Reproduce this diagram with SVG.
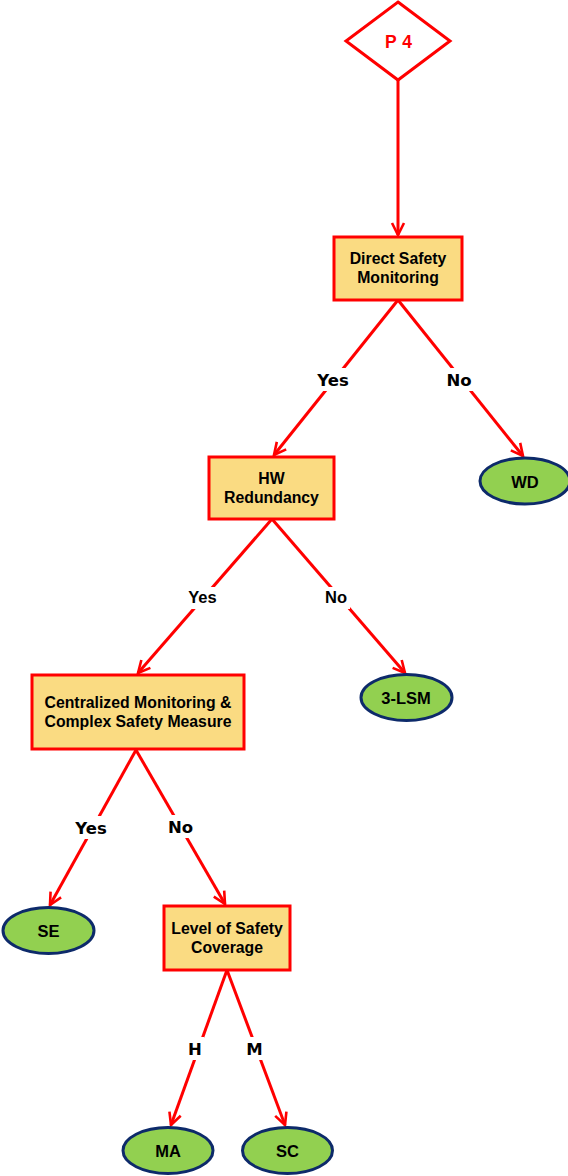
<svg xmlns="http://www.w3.org/2000/svg" width="568" height="1176" viewBox="0 0 568 1176">
  <style>
    .box { fill: #FADB82; stroke: #FF0000; stroke-width: 3; }
    .leaf { fill: #92D050; stroke: #0D2A6A; stroke-width: 3; }
    .btxt { font-family: "Liberation Sans", Arial, sans-serif; font-weight: bold; font-size: 15.8px; fill: #000; text-anchor: middle; }
    .ltxt { font-family: "Liberation Sans", Arial, sans-serif; font-weight: bold; font-size: 16.5px; fill: #000; text-anchor: middle; }
    .lbl { font-family: "DejaVu Sans", Verdana, sans-serif; font-weight: bold; font-size: 16.5px; fill: #000; text-anchor: middle; }
    .lbl2 { font-family: "Liberation Sans", Arial, sans-serif; font-weight: bold; font-size: 16.5px; fill: #000; text-anchor: middle; }
    .edge { stroke: #FF0000; stroke-width: 3; fill: none; }
    .gap { fill: #FFFFFF; }
  </style>
  <defs>
    <marker id="arrow" markerUnits="userSpaceOnUse" markerWidth="16" markerHeight="16" refX="13" refY="7" orient="auto" viewBox="0 0 16 14">
      <path d="M1,1 L13,7 L1,13" fill="none" stroke="#FF0000" stroke-width="2.6"/>
    </marker>
  </defs>
  <rect width="568" height="1176" fill="#FFFFFF"/>

  <!-- connectors -->
  <g id="connectors">
    <line class="edge" x1="398" y1="80" x2="398" y2="235" marker-end="url(#arrow)"/>
    <line class="edge" x1="398" y1="300" x2="274" y2="455" marker-end="url(#arrow)"/>
    <line class="edge" x1="398" y1="300" x2="523" y2="456" marker-end="url(#arrow)"/>
    <line class="edge" x1="272" y1="519" x2="138" y2="673" marker-end="url(#arrow)"/>
    <line class="edge" x1="272" y1="519" x2="405" y2="673" marker-end="url(#arrow)"/>
    <line class="edge" x1="136" y1="750" x2="50" y2="905" marker-end="url(#arrow)"/>
    <line class="edge" x1="136" y1="750" x2="225" y2="904" marker-end="url(#arrow)"/>
    <line class="edge" x1="227" y1="970" x2="171" y2="1125" marker-end="url(#arrow)"/>
    <line class="edge" x1="227" y1="970" x2="285" y2="1125" marker-end="url(#arrow)"/>

    <!-- edge labels on white backgrounds -->
    <rect class="gap" x="312" y="368" width="42" height="23"/>
    <text class="lbl" x="333" y="386">Yes</text>
    <rect class="gap" x="443" y="368" width="32" height="23"/>
    <text class="lbl" x="459" y="386">No</text>

    <rect class="gap" x="184" y="587" width="37" height="22"/>
    <text class="lbl2" x="202.5" y="603">Yes</text>
    <rect class="gap" x="322" y="587" width="28" height="22"/>
    <text class="lbl2" x="336" y="603">No</text>

    <rect class="gap" x="71" y="816" width="40" height="23"/>
    <text class="lbl" x="91" y="834">Yes</text>
    <rect class="gap" x="166" y="815" width="28" height="23"/>
    <text class="lbl" x="180.5" y="833" font-size="15px">No</text>

    <rect class="gap" x="186" y="1037" width="18" height="23"/>
    <text class="lbl" x="195" y="1055">H</text>
    <rect class="gap" x="244" y="1037" width="21" height="23"/>
    <text class="lbl" x="254.5" y="1055">M</text>
  </g>

  <!-- nodes -->
  <g id="p4">
    <polygon points="398,2 450,41 398,80 346,41" fill="#FFFFFF" stroke="#FF0000" stroke-width="3"/>
    <text x="398.5" y="48" font-family="Liberation Sans, Arial, sans-serif" font-weight="bold" font-size="17.5px" word-spacing="1" fill="#FF0000" text-anchor="middle">P 4</text>
  </g>

  <g id="direct-safety-monitoring">
    <rect class="box" x="334" y="237" width="128" height="63"/>
    <text class="btxt" x="398" y="264">Direct Safety</text>
    <text class="btxt" x="398" y="283">Monitoring</text>
  </g>

  <g id="wd">
    <ellipse class="leaf" cx="525" cy="481" rx="45" ry="23"/>
    <text class="ltxt" x="525" y="487.5">WD</text>
  </g>

  <g id="hw-redundancy">
    <rect class="box" x="209" y="457" width="125" height="62"/>
    <text class="btxt" x="271.5" y="484">HW</text>
    <text class="btxt" x="271.5" y="503">Redundancy</text>
  </g>

  <g id="lsm3">
    <ellipse class="leaf" cx="406.5" cy="697.5" rx="45.5" ry="23"/>
    <text class="ltxt" x="406" y="704">3-LSM</text>
  </g>

  <g id="centralized-monitoring">
    <rect class="box" x="32" y="675" width="212" height="74"/>
    <text class="btxt" x="138" y="707.5">Centralized Monitoring &amp;</text>
    <text class="btxt" x="138" y="726.5">Complex Safety Measure</text>
  </g>

  <g id="se">
    <ellipse class="leaf" cx="48.5" cy="930.5" rx="45.5" ry="23"/>
    <text class="ltxt" x="48.5" y="936.5">SE</text>
  </g>

  <g id="level-of-safety-coverage">
    <rect class="box" x="164" y="906" width="126" height="64"/>
    <text class="btxt" x="227" y="933.5">Level of Safety</text>
    <text class="btxt" x="227" y="952.5">Coverage</text>
  </g>

  <g id="ma">
    <ellipse class="leaf" cx="168" cy="1150.5" rx="45" ry="23"/>
    <text class="ltxt" x="168" y="1157">MA</text>
  </g>

  <g id="sc">
    <ellipse class="leaf" cx="287.5" cy="1150.5" rx="45" ry="23"/>
    <text class="ltxt" x="287.5" y="1157">SC</text>
  </g>
</svg>
